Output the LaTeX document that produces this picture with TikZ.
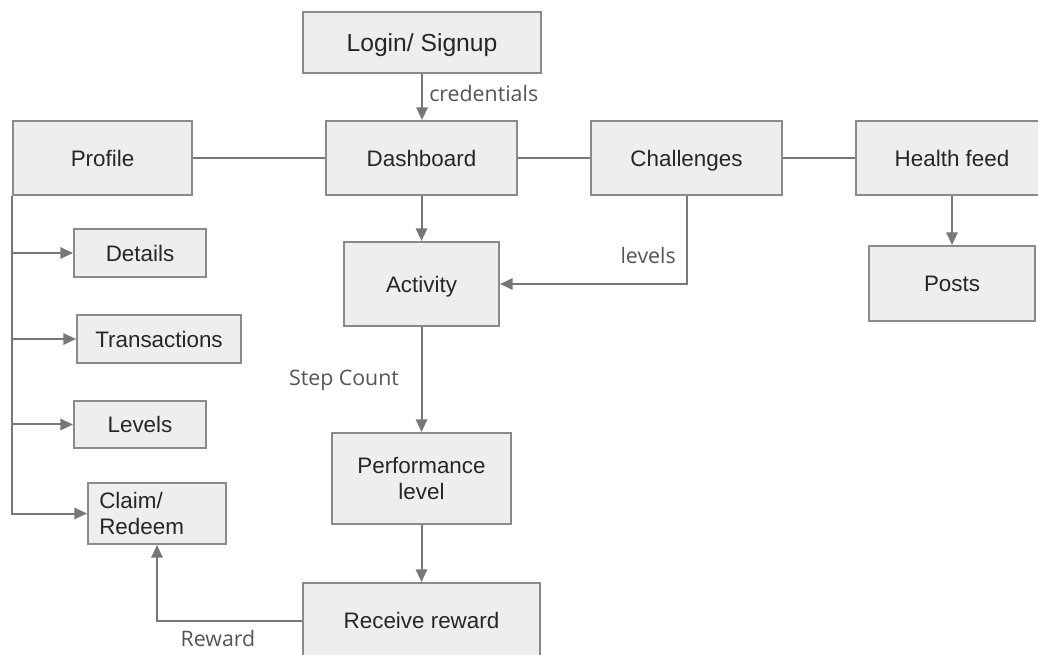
\documentclass[tikz,border=0pt]{standalone}
\usepackage{fontspec}
\setmainfont{Liberation Sans}
\newfontfamily\labelfont{Open Sans}
\usetikzlibrary{arrows.meta}
\definecolor{boxfill}{HTML}{EEEEEE}
\definecolor{boxline}{HTML}{8A8A8A}
\definecolor{wirecol}{HTML}{777777}
\definecolor{labeltext}{HTML}{555555}
\begin{document}
\begin{tikzpicture}[x=0.75pt,y=-0.75pt,
  box/.style={draw=boxline, fill=boxfill, line width=1.5pt, inner sep=0pt,
    font=\fontsize{16.8}{19}\selectfont, text=black!85},
  oneline/.style={text height=12.1pt, text depth=0pt},
  sz/.style 2 args={minimum width=#1*0.75pt, minimum height=#2*0.75pt},
  wire/.style={draw=wirecol, line width=1.5pt},
  flow/.style={wire, -{Triangle[length=9.5pt,width=8.5pt]}},
  edgelabel/.style={font=\labelfont\fontsize{16}{18}\selectfont, text=labeltext, inner sep=0pt}]
\useasboundingbox (0,0) rectangle (1038,655);
\fill[white] (0,0) rectangle (1038,655);

% boxes (centre, width, height)
\node[box, sz={238}{61}, text height=13.3pt, text depth=0pt, font=\fontsize{18.5}{21}\selectfont] (login) at (422,42.5) {Login/ Signup};
\node[box, oneline, sz={191}{74}] (dash) at (421.5,158) {Dashboard};
\node[box, oneline, sz={179}{74}] (profile) at (102.5,158) {Profile};
\node[box, oneline, sz={191}{74}] (chall) at (686.5,158) {Challenges};
\node[box, oneline, sz={192}{74}] (health) at (952,158) {Health feed};
\node[box, oneline, sz={166}{75}] (posts) at (952,283.5) {Posts};
\node[box, oneline, sz={155}{84}] (activity) at (421.5,284) {Activity};
\node[box, sz={179}{91}, align=center, font=\fontsize{16.8}{18.8}\selectfont] (perf) at (421.5,478.5) {Performance\\level};
\node[box, oneline, sz={237}{75}] (receive) at (421.5,620.5) {Receive reward};
\node[box, oneline, sz={132}{48}] (details) at (140,253) {Details};
\node[box, oneline, sz={164}{48}] (trans) at (159,339) {Transactions};
\node[box, oneline, sz={132}{47}] (levels) at (140,424.5) {Levels};
\node[box, sz={138}{61}] (claim) at (157,513.5) {};
\node[font=\fontsize{16.8}{20}\selectfont, text=black!85, align=left, anchor=west, inner sep=0pt]
  (claimtext) at ([xshift=9pt]claim.west) {Claim/\\Redeem};

% connectors
\draw[flow] (login.south) -- (login.south |- dash.north);
\draw[wire] (profile) -- (dash);
\draw[wire] (dash) -- (chall);
\draw[wire] (chall) -- (health);
\draw[flow] (dash) -- (activity);
\draw[flow] (chall.south) |- (activity.east);
\draw[flow] (activity) -- (perf);
\draw[flow] (perf) -- (receive);
\draw[flow] (receive.west) -| (claim.south);
\draw[flow] (health) -- (posts);

% profile branches
\draw[flow] (profile.south west) |- (claim.west);
\draw[flow] (profile.south west |- details.west) -- (details.west);
\draw[flow] (profile.south west |- trans.west) -- (trans.west);
\draw[flow] (profile.south west |- levels.west) -- (levels.west);

% edge labels
\node[edgelabel, anchor=west] at (429,94) {credentials};
\node[edgelabel, anchor=east] at (676,256) {levels};
\node[edgelabel] at (344,380) {Step Count};
\node[edgelabel] at (218,638) {Reward};
\end{tikzpicture}
\end{document}
